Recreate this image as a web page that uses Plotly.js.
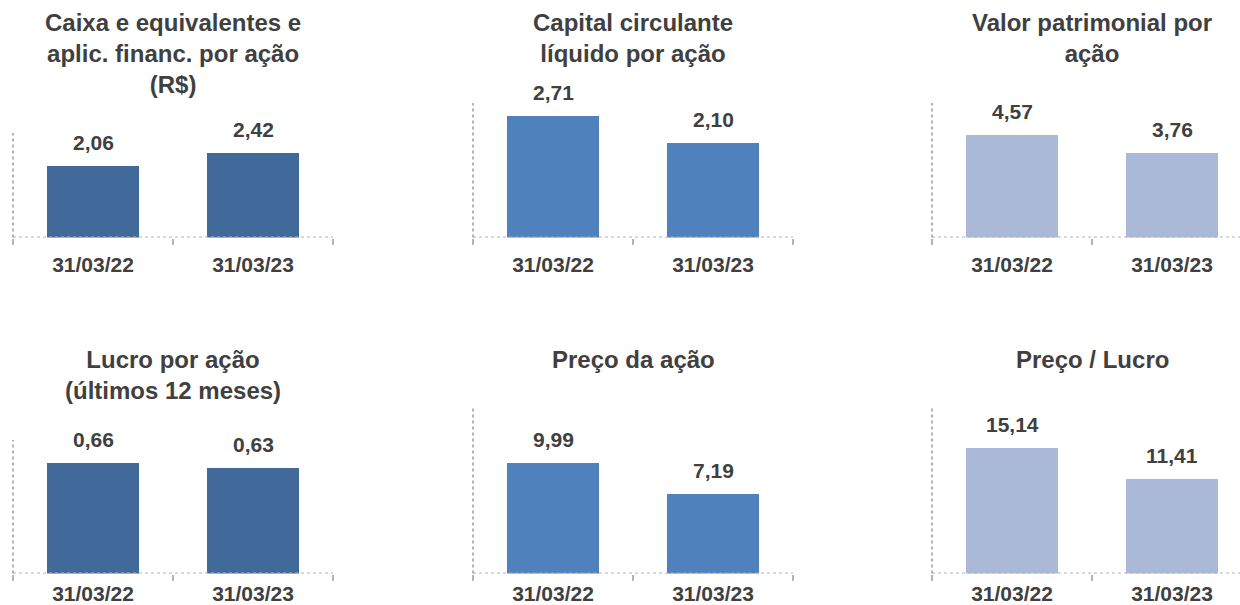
<!DOCTYPE html>
<html>
<head>
<meta charset="utf-8">
<script src="https://cdn.plot.ly/plotly-3.0.1.min.js"></script>
<style>html,body{margin:0;padding:0;background:#fff;}#chart{width:1240px;height:605px;}</style>
</head>
<body>
<div id="chart"></div>
<script>
// ---- data ----
const categories = ['31/03/22', '31/03/23'];
const caixa = [2.06, 2.42];
const capitalCirculante = [2.71, 2.10];
const valorPatrimonial = [4.57, 3.76];
const lucro = [0.66, 0.63];
const preco = [9.99, 7.19];
const precoLucro = [15.14, 11.41];
const titles = [
  'Caixa e equivalentes e<br>aplic. financ. por ação<br>(R$)',
  'Capital circulante<br>líquido por ação',
  'Valor patrimonial por<br>ação',
  'Lucro por ação<br>(últimos 12 meses)',
  'Preço da ação',
  'Preço / Lucro'
];
const series = [caixa, capitalCirculante, valorPatrimonial, lucro, preco, precoLucro];

// ---- layout config ----
const W = 1240, H = 605;
const dark = '#41699A', mid = '#4F81BD', light = '#A9B9D7';
const textColor = '#404040';
const axisColor = '#B4B4B4';
const fam = 'Arial, "Liberation Sans", sans-serif';
const colX = [[13, 333], [473, 793], [932, 1240]];
const rowBase = [237.5, 573.5];
const rowStandoff = [12, 5];
const panels = [
  {col: 0, row: 0, top: 133, ymax: 3, color: dark},
  {col: 1, row: 0, top: 103, ymax: 3, color: mid},
  {col: 2, row: 0, top: 103, ymax: 6, color: light},
  {col: 0, row: 1, top: 440, ymax: 0.8, color: dark},
  {col: 1, row: 1, top: 408, ymax: 15, color: mid},
  {col: 2, row: 1, top: 408, ymax: 20, color: light}
];
const titleTop = [7, 344];

const data = [];
const layout = {
  width: W, height: H,
  margin: {l: 0, r: 0, t: 0, b: 0},
  paper_bgcolor: '#ffffff', plot_bgcolor: 'rgba(0,0,0,0)',
  showlegend: false,
  bargap: 0,
  font: {family: fam, color: textColor},
  annotations: [],
  shapes: []
};

panels.forEach((p, i) => {
  const n = i + 1;
  const xa = 'x' + (n === 1 ? '' : n);
  const ya = 'y' + (n === 1 ? '' : n);
  const xKey = 'xaxis' + (n === 1 ? '' : n);
  const yKey = 'yaxis' + (n === 1 ? '' : n);
  const x0 = colX[p.col][0], x1 = colX[p.col][1];
  const base = rowBase[p.row];
  const pxW = x1 - x0;
  data.push({
    type: 'bar', x: categories, y: series[i], xaxis: xa, yaxis: ya,
    width: 0.57, marker: {color: p.color, line: {width: 0}}, hoverinfo: 'none'
  });
  layout[xKey] = {
    domain: [x0 / W, x1 / W], anchor: ya,
    type: 'category', range: [-0.5, -0.5 + pxW / 160],
    showline: false, showgrid: false, zeroline: false,
    ticks: 'outside', tickson: 'boundaries', ticklen: 6, tickwidth: 1.5, tickcolor: axisColor,
    tickfont: {size: 21, weight: 'bold', color: textColor, family: fam},
    ticklabelstandoff: rowStandoff[p.row],
    fixedrange: true
  };
  layout[yKey] = {
    domain: [1 - base / H, 1 - p.top / H], anchor: xa,
    range: [0, p.ymax], showline: false, showgrid: false, zeroline: false,
    showticklabels: false, ticks: '', fixedrange: true
  };
  // dotted axis lines
  layout.shapes.push({type: 'line', xref: xa + ' domain', yref: ya, x0: 0, x1: 1, y0: 0, y1: 0,
    line: {color: axisColor, width: 2, dash: 'dot'}});
  layout.shapes.push({type: 'line', xref: xa + ' domain', yref: ya + ' domain', x0: 0, x1: 0, y0: 0, y1: 1,
    line: {color: axisColor, width: 2, dash: 'dot'}});
  // title
  layout.annotations.push({
    xref: 'paper', yref: 'paper', x: (x0 + x0 + 320) / 2 / W, y: 1 - titleTop[p.row] / H,
    xanchor: 'center', yanchor: 'top', showarrow: false, align: 'center',
    text: titles[i],
    font: {size: 24, weight: 'bold', color: textColor, family: fam}
  });
  // value labels
  series[i].forEach((v, k) => {
    layout.annotations.push({
      xref: xa, yref: ya, x: categories[k], y: v,
      xanchor: 'center', yanchor: 'bottom', yshift: 10, showarrow: false,
      text: v.toFixed(2).replace('.', ','),
      font: {size: 21, weight: 'bold', color: textColor, family: fam}
    });
  });
});

Plotly.newPlot('chart', data, layout, {staticPlot: true, displayModeBar: false});
</script>
</body>
</html>
